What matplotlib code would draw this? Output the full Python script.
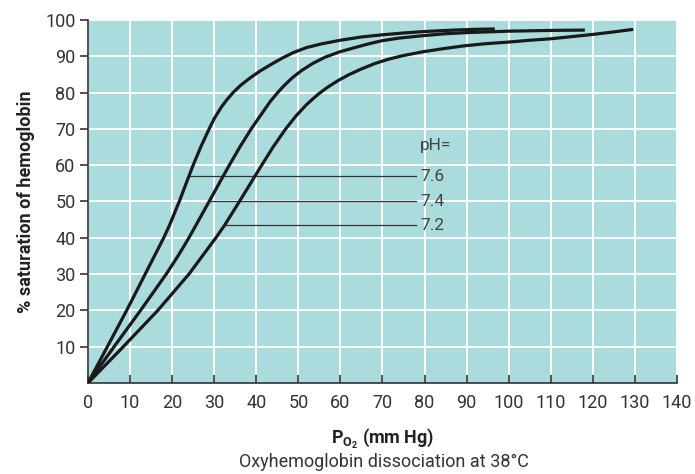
import matplotlib.pyplot as plt

plt.rcParams['font.family'] = ['Roboto', 'DejaVu Sans']
plt.rcParams['mathtext.fontset'] = 'custom'
plt.rcParams['mathtext.rm'] = 'Roboto'
plt.rcParams['mathtext.bf'] = 'Roboto:bold'

# curves (P_O2 in mm Hg, % saturation)
po2_76 = [0, 4.6, 9.2, 13.6, 18.0, 19.4, 21.7, 24.0, 25.0, 26.8, 28.8, 30.1, 31.7,
          33.0, 34.5, 36.3, 38.5, 41.0, 43.9, 46.2, 48.8, 52.0, 55.5, 60, 65,
          70, 75, 80, 87, 92, 96.7]
sat_76 = [0, 10, 20, 30, 40, 43.5, 50, 57, 60, 65, 70, 73, 76,
          78, 80, 82, 84, 86, 88, 89.5, 91, 92.4, 93.4, 94.4, 95.3,
          95.9, 96.4, 96.8, 97.2, 97.4, 97.5]

po2_74 = [0, 6.2, 12.5, 18.6, 21.4, 24.0, 26.4, 28.8, 32.0, 33.6, 36.1, 38.8, 41.8,
          43.3, 45.1, 46.7, 48.5, 50.7, 53.4, 56.3, 59.8, 63.8, 67.0, 70, 74,
          80, 85, 90, 100, 110, 118.1]
sat_74 = [0, 10, 20, 30, 35, 40, 45, 50, 56.7, 60, 65, 70, 75,
          77.5, 80, 82, 84, 86, 88, 89.7, 91.2, 92.5, 93.5, 94.3, 95.0,
          95.7, 96.2, 96.5, 96.9, 97.1, 97.2]

po2_72 = [0, 8.4, 16.6, 24.0, 30.4, 32.5, 36.0, 39.7, 41.3, 44.0, 47.0, 49.4, 51.8,
          53.4, 54.9, 57.0, 59.6, 62.0, 64.8, 68.2, 71.5, 75, 79.5, 84, 89,
          94, 100, 105, 110, 115, 120, 125, 129.6]
sat_72 = [0, 10, 20, 30, 40, 43.5, 50, 57, 60, 65, 70, 73.5, 76.5,
          78.2, 79.7, 81.5, 83.4, 84.9, 86.4, 88.0, 89.2, 90.2, 91.2, 92.0, 92.8,
          93.4, 93.9, 94.4, 94.8, 95.4, 96.0, 96.7, 97.4]

# pH markers: label, saturation level, where the leader line starts
ph_labels = ['7.6', '7.4', '7.2']
ph_levels = [57, 50, 43.5]
ph_starts = [24.0, 28.8, 32.5]

xticks = list(range(0, 141, 10))
yticks = list(range(10, 101, 10))

fig = plt.figure(figsize=(6.95, 4.74), dpi=100)
ax = fig.add_axes([0.1266, 0.192, 0.8475, 0.766])
ax.set_facecolor('#ABDCDD')

for x, y in [(po2_76, sat_76), (po2_74, sat_74), (po2_72, sat_72)]:
    ax.plot(x, y, color='#1a1a1a', lw=2.3, solid_joinstyle='round',
            solid_capstyle='butt', zorder=3)

for lab, lev, x0 in zip(ph_labels, ph_levels, ph_starts):
    ax.plot([x0, 78], [lev, lev], color='#333333', lw=0.9, zorder=2)
    ax.text(79, lev, lab, fontsize=12.5, color='#444444', va='center', ha='left')
ax.text(79, 65.5, 'pH=', fontsize=12.5, color='#444444', va='center', ha='left')

ax.set_xlim(0, 140)
ax.set_ylim(0, 100)
ax.set_xticks(xticks)
ax.set_yticks(yticks)
ax.grid(True, color='white', lw=1.4)
ax.set_axisbelow(True)

for s in ['top', 'right']:
    ax.spines[s].set_visible(False)
for s in ['left', 'bottom']:
    ax.spines[s].set_color('#333333')
    ax.spines[s].set_linewidth(1.2)

ax.tick_params(axis='x', direction='in', length=6, width=1.2, color='#333333',
               labelsize=13, labelcolor='#333333', pad=8)
ax.tick_params(axis='y', direction='out', length=6, width=1.2, color='#333333',
               labelsize=13, labelcolor='#333333', pad=3)

ax.set_xlabel(r'P$_{\mathbf{O}_\mathbf{2}}$ (mm Hg)', fontsize=13, fontweight='bold',
              color='#222222', labelpad=11)
ax.set_ylabel('% saturation of hemoglobin', fontsize=13, fontweight='bold',
              color='#222222', labelpad=7)

fig.text(0.553, 0.025, 'Oxyhemoglobin dissociation at 38°C', fontsize=13,
         color='#333333', ha='center', va='center')

fig.savefig('out.png', dpi=100)
